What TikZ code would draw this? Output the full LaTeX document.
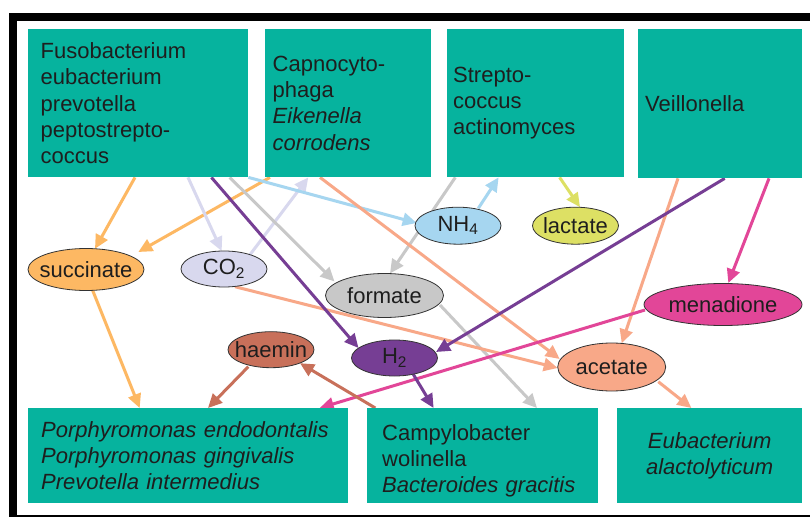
\documentclass[tikz,border=0pt]{standalone}
\usepackage{fontspec}
\setmainfont{Liberation Sans}
\usetikzlibrary{shapes.geometric,arrows.meta,calc}
\pgfdeclarelayer{frame}
\pgfdeclarelayer{bg}
\pgfsetlayers{frame,bg,main}
\definecolor{tealbox}{RGB}{6,179,158}
\definecolor{txt}{RGB}{30,30,30}
\definecolor{orangeA}{RGB}{253,184,99}
\definecolor{lavA}{RGB}{216,216,238}
\definecolor{blueA}{RGB}{166,214,240}
\definecolor{grayA}{RGB}{200,200,200}
\definecolor{purpleA}{RGB}{118,62,148}
\definecolor{salmonA}{RGB}{248,168,136}
\definecolor{yellowA}{RGB}{221,224,100}
\definecolor{pinkA}{RGB}{226,70,152}
\definecolor{brownA}{RGB}{200,112,90}
\tikzset{
  lbl/.style={font=\fontsize{22pt}{26.4pt}\selectfont, text=txt, inner sep=0pt},
  box/.style={lbl, rectangle, fill=tealbox, draw=none, inner sep=0pt, anchor=north west, align=left},
  oval/.style={ellipse, draw=black!80, line width=0.8pt, inner sep=0pt},
  arr/.style={line width=3pt, -{Triangle[length=14pt,width=13pt]}},
}
\begin{document}
\begin{tikzpicture}[x=1pt,y=-1pt]
\useasboundingbox (0,0) rectangle (810,518);
\begin{pgfonlayer}{frame}
\fill[white] (0,0) rectangle (810,518);
\fill[black] (9,13) rectangle (810,517);
\fill[white] (17,21) rectangle (810,515);
\end{pgfonlayer}

% boxes
\node[box, minimum width=220pt, minimum height=148pt, text width=195pt] (b1) at (28,29)
  {Fusobacterium\\eubacterium\\prevotella\\peptostrepto-\\coccus};
\node[box, minimum width=166pt, minimum height=148pt, text width=151pt] (b2) at (265,29)
  {Capnocyto-\\phaga\\\textit{Eikenella}\\\textit{corrodens}};
\node[box, minimum width=177pt, minimum height=148pt, text width=165pt] (b3) at (447,29)
  {Strepto-\\coccus\\actinomyces};
\node[box, minimum width=164pt, minimum height=149pt, text width=150pt] (b4) at (638,29)
  {Veillonella};
\node[box, minimum width=320pt, minimum height=95pt, text width=294pt] (b5) at (28,408)
  {\textit{Porphyromonas endodontalis}\\\textit{Porphyromonas gingivalis}\\\textit{Prevotella intermedius}};
\node[box, minimum width=231pt, minimum height=95pt, text width=201pt] (b6) at (367,408)
  {\rule{0pt}{26pt}Campylobacter\\wolinella\\\textit{Bacteroides gracitis}};
\node[box, minimum width=185pt, minimum height=95pt, text width=170pt, align=center] (b7) at (617,408)
  {\textit{Eubacterium}\\\textit{alactolyticum}};

% ellipses
\node[oval, fill=orangeA, minimum width=116pt, minimum height=42pt] (succ) at (86,269.5) {};
\node[oval, fill=lavA, minimum width=86pt, minimum height=36pt] (co2) at (224,269) {};
\node[oval, fill=grayA, minimum width=118pt, minimum height=44pt] (form) at (384.5,295.5) {};
\node[oval, fill=blueA, minimum width=86pt, minimum height=37pt] (nh4) at (458,225.7) {};
\node[oval, fill=yellowA, minimum width=86pt, minimum height=37pt] (lact) at (575.5,225.7) {};
\node[oval, fill=brownA, minimum width=86pt, minimum height=36pt] (haem) at (271,349.7) {};
\node[oval, fill=purpleA, minimum width=86pt, minimum height=36pt] (h2) at (394.5,358) {};
\node[oval, fill=salmonA, minimum width=108pt, minimum height=48pt] (acet) at (611.7,367) {};
\node[oval, fill=pinkA, minimum width=158pt, minimum height=42pt] (mena) at (723,304.5) {};

\node[lbl] (succT) at (succ) {succinate};
\node[lbl] (co2T) at (co2) {CO\textsubscript{2}};
\node[lbl] (formT) at (form) {formate};
\node[lbl] (nh4T) at (nh4) {NH\textsubscript{4}};
\node[lbl] (lactT) at (lact) {lactate};
\node[lbl] (haemT) at (haem) {haemin};
\node[lbl] (h2T) at (h2) {H\textsubscript{2}};
\node[lbl] (acetT) at (acet) {acetate};
\node[lbl] (menaT) at (mena) {menadione};

\begin{pgfonlayer}{bg}
% orange
\draw[arr, orangeA] ($(b1.south west)+(107,0)$) -- ($(succ)+(9,-20.7)$);
\draw[arr, orangeA] ($(b2.south west)+(5,0)$) -- ($(succ)+(52.3,-17.5)$);
\draw[arr, orangeA] ($(succ)+(6.7,21)$) -- ($(b5.north west)+(111.7,0)$);
% lavender
\draw[arr, lavA] ($(b1.south west)+(160,0)$) -- ($(co2)+(-2.3,-18)$);
\draw[arr, lavA] ($(co2)+(26,-14.3)$) -- ($(b2.south west)+(43.3,0)$);
% light blue
\draw[arr, blueA] (b1.south east) -- ($(nh4)+(-41.3,-2.7)$);
\draw[arr, blueA] ($(nh4)+(20.3,-17.4)$) -- ($(b3.south west)+(51.6,0)$);
% gray
\draw[arr, grayA] ($(b1.south west)+(201.7,0)$) -- ($(form)+(-50,-14)$);
\draw[arr, grayA] ($(b3.south west)+(8.3,0)$) -- ($(form)+(5.5,-22)$);
\draw[arr, grayA] ($(form)+(55.5,9.5)$) -- ($(b6.north west)+(170,0)$);
% salmon
\draw[arr, salmonA] ($(b2.south west)+(55,0)$) -- ($(acet)+(-52,-8)$);
\draw[arr, salmonA] ($(co2)+(11,17.7)$) -- ($(acet)+(-54,1)$);
\draw[arr, salmonA] ($(b4.south west)+(40,0)$) -- ($(acet)+(10,-23.7)$);
\draw[arr, salmonA] ($(acet)+(46.6,14.7)$) -- ($(b7.north west)+(74.4,0)$);
% yellow
\draw[arr, yellowA] ($(b3.south west)+(112.6,0)$) -- ($(lact)+(4.5,-18.5)$);
% pink
\draw[arr, pinkA] ($(b4.south west)+(131,0)$) -- ($(mena)+(5.3,-21.5)$);
\draw[arr, pinkA] ($(mena)+(-78,5.5)$) -- ($(b5.north west)+(291.7,0)$);
% brown
\draw[arr, brownA] ($(haem)+(-22.7,17)$) -- ($(b5.north west)+(180,0)$);
\draw[arr, brownA] ($(b6.north west)+(8.3,0)$) -- ($(haem)+(29,13.5)$);
% purple
\draw[arr, purpleA] ($(b1.south west)+(183.4,0)$) -- ($(h2)+(-36,-10)$);
\draw[arr, purpleA] ($(b4.south west)+(86.7,0)$) -- ($(h2)+(41.5,-6)$);
\draw[arr, purpleA] ($(h2)+(18.8,16.3)$) -- ($(b6.north west)+(66.6,0)$);
\end{pgfonlayer}
\end{tikzpicture}
\end{document}
